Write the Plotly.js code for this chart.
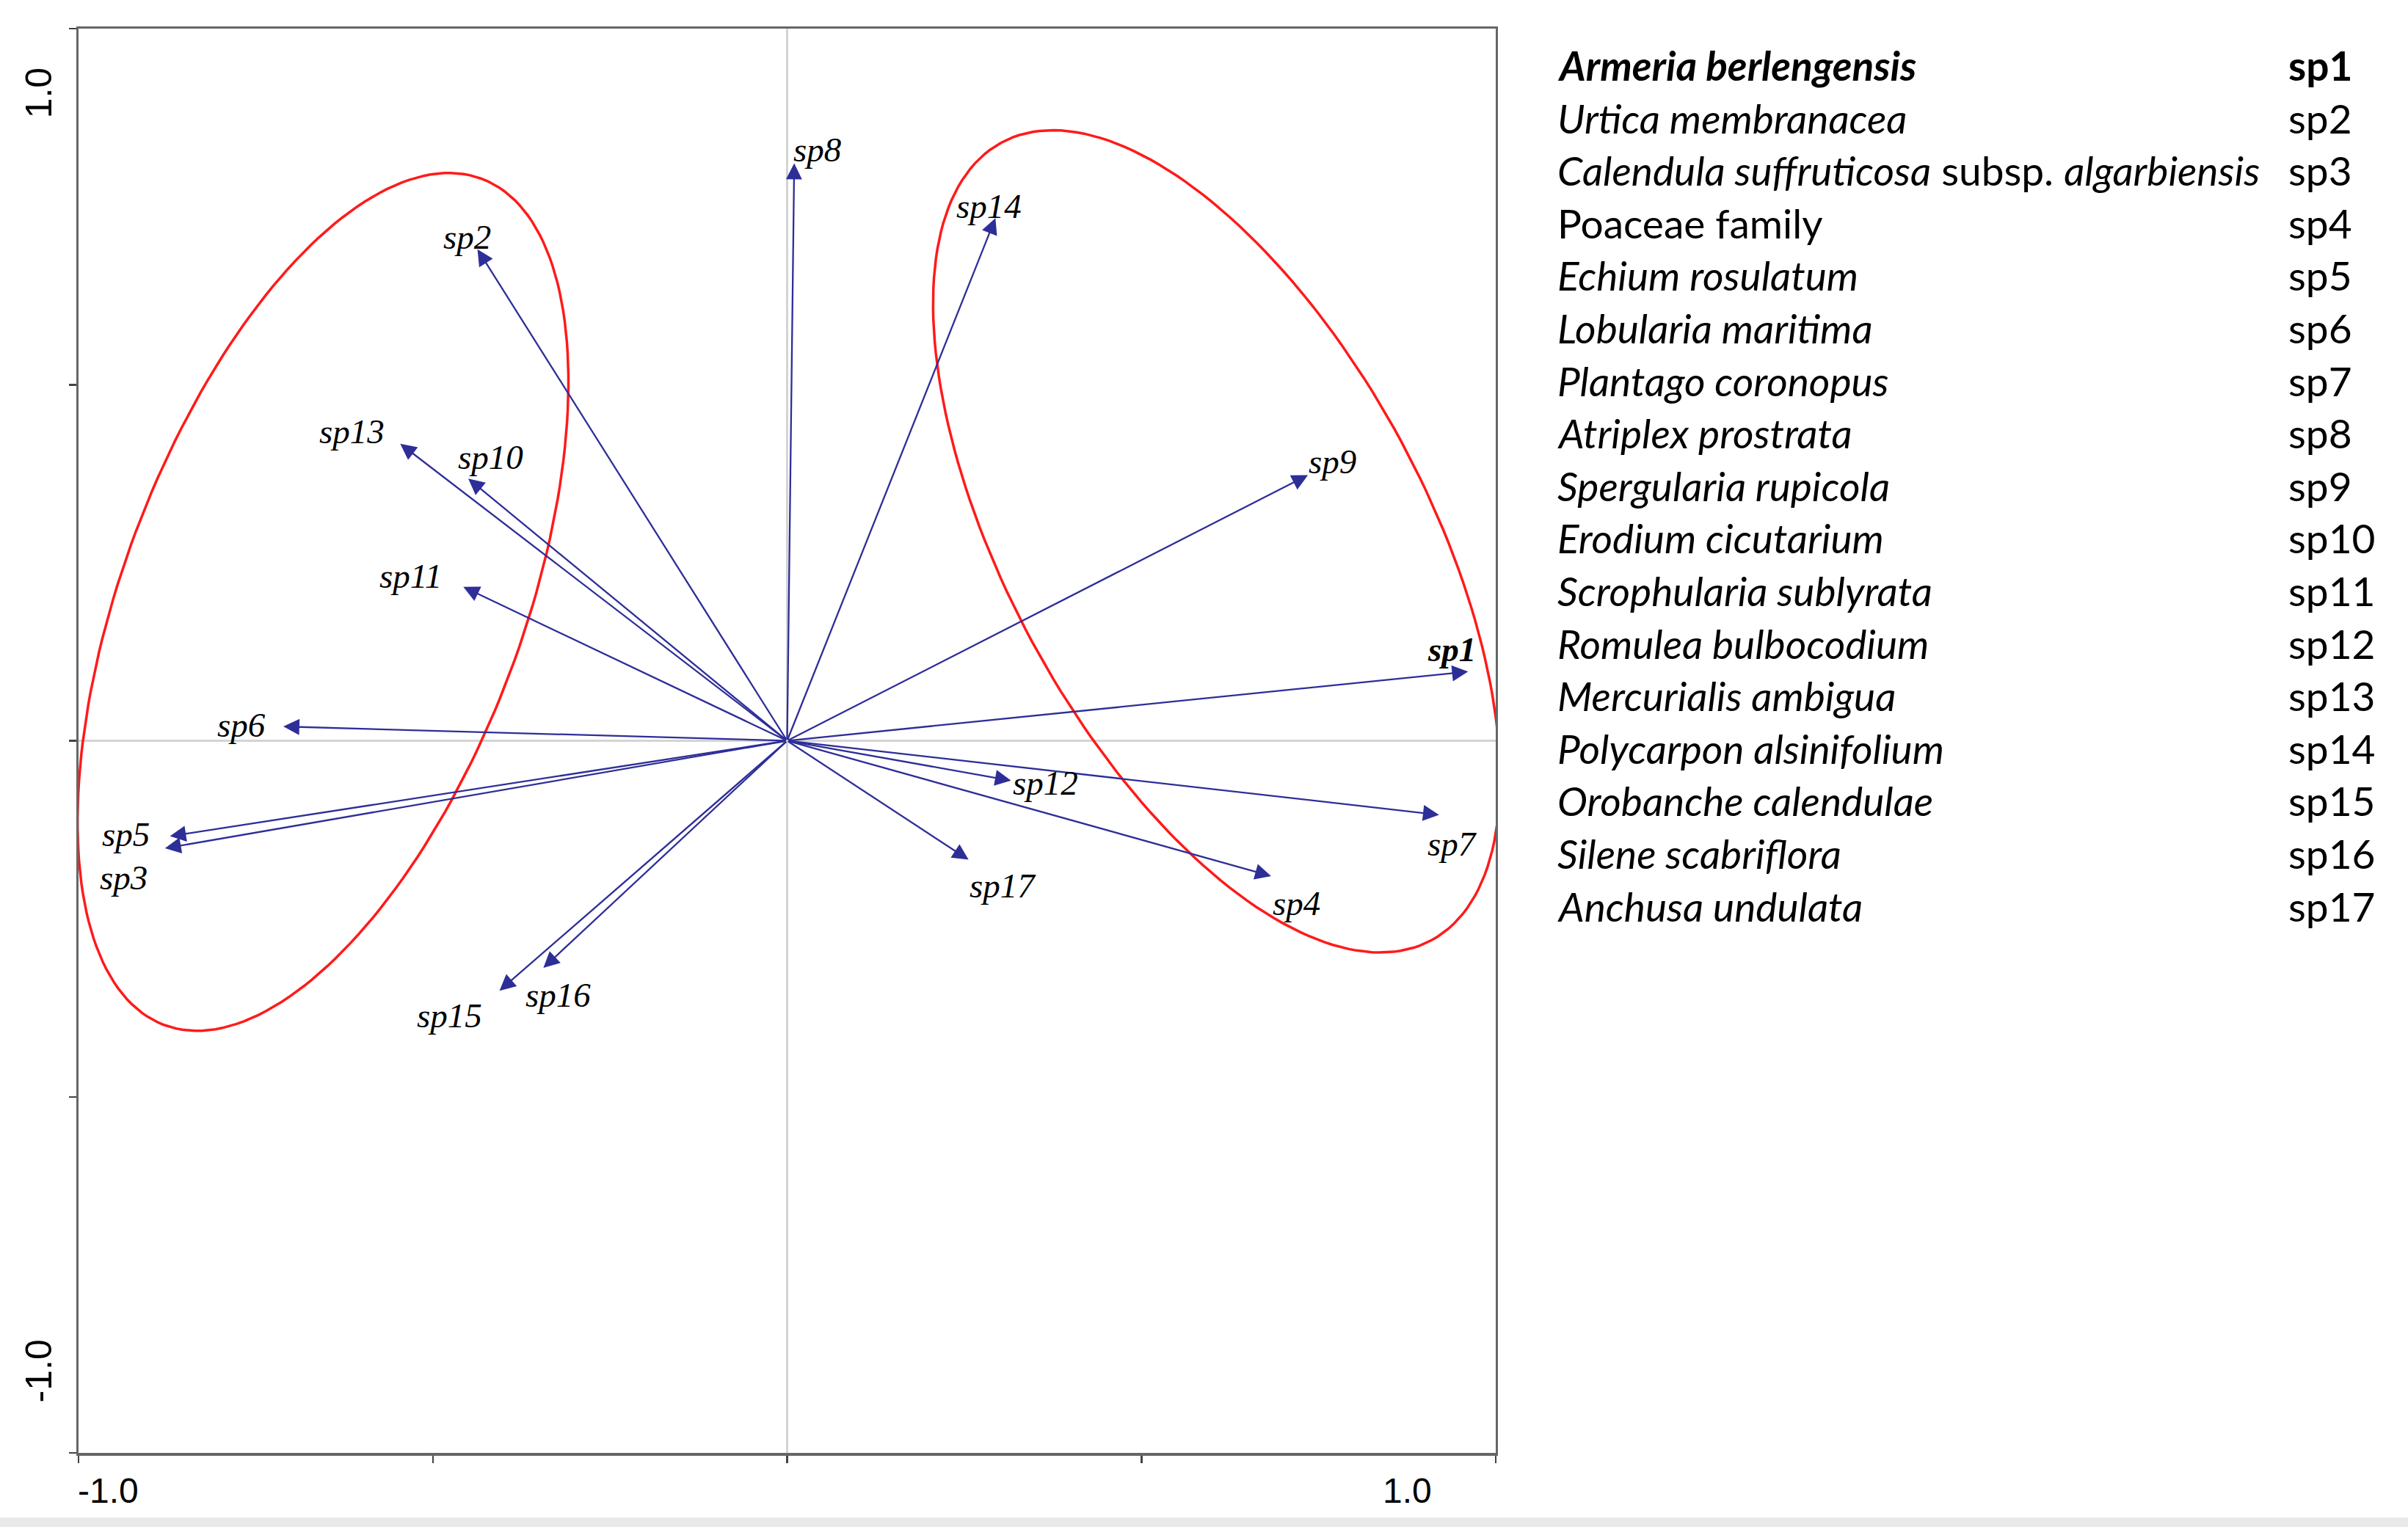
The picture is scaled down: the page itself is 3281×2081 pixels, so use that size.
<!DOCTYPE html>
<html>
<head>
<meta charset="utf-8">
<script src="https://cdn.plot.ly/plotly-3.0.1.min.js"></script>
<style>html,body{margin:0;padding:0;background:#fff;}#chart{width:3281px;height:2081px;}</style>
</head>
<body>
<div id="chart"></div>
<script>
// ---- data ----
const species = ['sp1','sp2','sp3','sp4','sp5','sp6','sp7','sp8','sp9','sp10','sp11','sp12','sp13','sp14','sp15','sp16','sp17'];
const axis1 = [0.961,-0.437,-0.878,0.683,-0.871,-0.711,0.920,0.010,0.735,-0.450,-0.457,0.316,-0.546,0.294,-0.406,-0.344,0.256];
const axis2 = [0.097,0.690,-0.151,-0.190,-0.134,0.020,-0.104,0.811,0.373,0.368,0.216,-0.056,0.417,0.734,-0.351,-0.319,-0.167];
const speciesNames = [
  '<b><i>Armeria berlengensis</i></b>',
  '<i>Urtica membranacea</i>',
  '<i>Calendula suffruticosa</i> subsp. <i>algarbiensis</i>',
  'Poaceae family',
  '<i>Echium rosulatum</i>',
  '<i>Lobularia maritima</i>',
  '<i>Plantago coronopus</i>',
  '<i>Atriplex prostrata</i>',
  '<i>Spergularia rupicola</i>',
  '<i>Erodium cicutarium</i>',
  '<i>Scrophularia sublyrata</i>',
  '<i>Romulea bulbocodium</i>',
  '<i>Mercurialis ambigua</i>',
  '<i>Polycarpon alsinifolium</i>',
  '<i>Orobanche calendulae</i>',
  '<i>Silene scabriflora</i>',
  '<i>Anchusa undulata</i>'
];
const boldSpecies = ['sp1'];
// group ellipses: centre, semi-axes and rotation (degrees)
const ellipseCX = [-0.655, 0.606];
const ellipseCY = [0.195, 0.280];
const ellipseA = [0.635, 0.637];
const ellipseB = [0.282, 0.296];
const ellipseAngle = [69.3, 118.5];
const tickLabelsX = ['-1.0','1.0'];
const tickLabelsY = ['1.0','-1.0'];

// ---- label placement offsets (px) ----
const labelDX = [-22,-14,-56,35,-60,-57,18,31,33,30,-72,47,-66,-9,-68,20,47];
const labelDY = [30,17,-40,-37,3,2,-40,18,19,29,15,-3,17,16,-34,-37,-35];

const traces = [];
for (let k = 0; k < ellipseCX.length; k++) {
  const xs = [], ys = [];
  const th = ellipseAngle[k] * Math.PI / 180;
  for (let i = 0; i <= 200; i++) {
    const t = 2 * Math.PI * i / 200;
    const u = ellipseA[k] * Math.cos(t), v = ellipseB[k] * Math.sin(t);
    xs.push(ellipseCX[k] + u * Math.cos(th) - v * Math.sin(th));
    ys.push(ellipseCY[k] + u * Math.sin(th) + v * Math.cos(th));
  }
  traces.push({x: xs, y: ys, mode: 'lines', line: {color: '#ff1a1a', width: 3.5}, hoverinfo: 'skip', showlegend: false, cliponaxis: false});
}

const plotL = 107, plotR = 2038, plotT = 39, plotB = 1980;
const px2paperX = p => (p - plotL) / (plotR - plotL);
const px2paperY = p => (plotB - p) / (plotB - plotT);

const annotations = [];
species.forEach((s, i) => {
  annotations.push({
    x: axis1[i], y: axis2[i], xref: 'x', yref: 'y',
    ax: 0, ay: 0, axref: 'x', ayref: 'y',
    text: '', showarrow: true, arrowhead: 2, arrowsize: 1.9, arrowwidth: 2.3,
    arrowcolor: '#2e2e98', standoff: 0
  });
  const bold = boldSpecies.includes(s);
  annotations.push({
    x: axis1[i], y: axis2[i], xref: 'x', yref: 'y',
    xshift: labelDX[i], yshift: labelDY[i],
    text: bold ? '<b><i>' + s + '</i></b>' : '<i>' + s + '</i>',
    showarrow: false, xanchor: 'center', yanchor: 'middle',
    font: {family: 'Liberation Serif, Times New Roman, serif', size: 47, color: '#000'}
  });
});

// axis tick labels (placed inside the axis ends)
const tickFont = {family: 'Liberation Sans, Arial, sans-serif', size: 48, color: '#000'};
annotations.push({x: -0.958, y: px2paperY(2031), xref: 'x', yref: 'paper', yanchor: 'middle', xanchor: 'center',
  text: tickLabelsX[0], showarrow: false, font: tickFont});
annotations.push({x: 0.875, y: px2paperY(2031), xref: 'x', yref: 'paper', yanchor: 'middle', xanchor: 'center',
  text: tickLabelsX[1], showarrow: false, font: tickFont});
annotations.push({x: 0, y: 0.91, xref: 'paper', yref: 'y', xanchor: 'center', yanchor: 'middle', xshift: -54,
  text: tickLabelsY[0], textangle: -90, showarrow: false, font: {family: 'Liberation Sans, Arial, sans-serif', size: 50, color: '#000'}});
annotations.push({x: 0, y: -0.885, xref: 'paper', yref: 'y', xanchor: 'center', yanchor: 'middle', xshift: -54,
  text: tickLabelsY[1], textangle: -90, showarrow: false, font: {family: 'Liberation Sans, Arial, sans-serif', size: 50, color: '#000'}});

// species key on the right
const keyFont = {family: 'Lato, Noto Sans, sans-serif', size: 55, color: '#000'};
species.forEach((s, i) => {
  const yc = 89 + 71.6 * i;
  const bold = boldSpecies.includes(s);
  annotations.push({
    x: px2paperX(2120), y: px2paperY(yc), xref: 'paper', yref: 'paper',
    xanchor: 'left', yanchor: 'middle', showarrow: false,
    text: speciesNames[i], font: keyFont
  });
  annotations.push({
    x: px2paperX(3116), y: px2paperY(yc), xref: 'paper', yref: 'paper',
    xanchor: 'left', yanchor: 'middle', showarrow: false,
    text: bold ? '<b>' + s + '</b>' : s, font: keyFont
  });
});

const layout = {
  width: 3281, height: 2081,
  margin: {l: plotL, r: 3281 - plotR, t: plotT, b: 2081 - plotB, autoexpand: false},
  paper_bgcolor: '#fff', plot_bgcolor: '#fff',
  showlegend: false,
  xaxis: {range: [-1, 1], tickvals: [-1, -0.5, 0, 0.5, 1], showticklabels: false, ticks: 'outside', ticklen: 10, tickwidth: 2.5, tickcolor: '#444',
    showgrid: false, zeroline: true, zerolinecolor: '#d4d4d4', zerolinewidth: 2.5,
    showline: true, linecolor: '#666', linewidth: 3.5, mirror: true, fixedrange: true},
  yaxis: {range: [-1, 1], tickvals: [-1, -0.5, 0, 0.5, 1], showticklabels: false, ticks: 'outside', ticklen: 10, tickwidth: 2.5, tickcolor: '#444',
    showgrid: false, zeroline: true, zerolinecolor: '#d4d4d4', zerolinewidth: 2.5,
    showline: true, linecolor: '#666', linewidth: 3, mirror: true, fixedrange: true},
  annotations: annotations,
  shapes: [{type: 'rect', xref: 'paper', yref: 'paper', x0: -0.06, x1: 1.65, y0: -0.0525, y1: -0.0455, fillcolor: '#e9e9e9', line: {width: 0}, layer: 'below'}]
};

Plotly.newPlot('chart', traces, layout, {displayModeBar: false, staticPlot: true});
</script>
</body>
</html>
